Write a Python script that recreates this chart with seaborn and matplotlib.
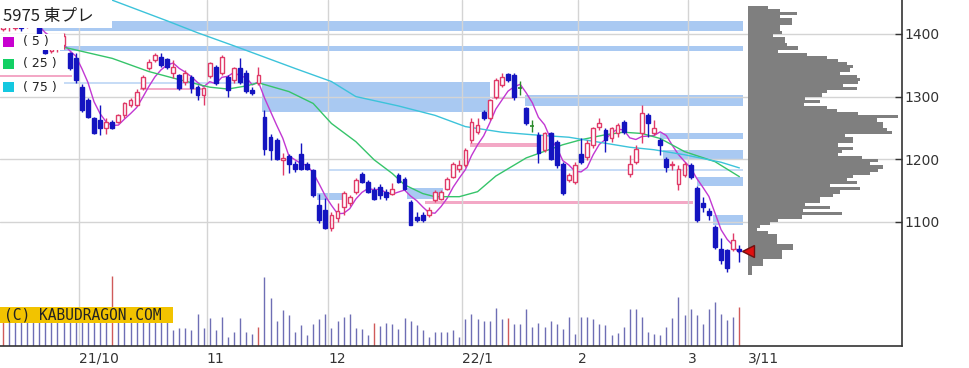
import numpy as np
import pandas as pd
import matplotlib
matplotlib.use("Agg")
import matplotlib.pyplot as plt
from matplotlib.patches import Rectangle
import seaborn as sns

# ==========================================
# データ: 5975 東プレ 日足 (21/9 - 22/3/11)、チャートから読み取り
# ==========================================
opens = [1408, 1418, 1410, 1424, 1412, 1420, 1412, 1374, 1373, 1377,
         1382, 1370, 1362, 1315, 1295, 1266, 1263, 1250, 1260, 1260,
         1270, 1287, 1287, 1313, 1345, 1358, 1364, 1360, 1338, 1334,
         1324, 1332, 1316, 1302, 1333, 1348, 1337, 1332, 1326, 1345,
         1338, 1311, 1321, 1268, 1236, 1230, 1199, 1205, 1192, 1209,
         1192, 1182, 1127, 1119, 1090, 1106, 1124, 1130, 1148, 1177,
         1163, 1151, 1156, 1148, 1145, 1175, 1169, 1132, 1108, 1111,
         1111, 1135, 1137, 1153, 1172, 1185, 1191, 1231, 1244, 1276,
         1265, 1300, 1319, 1336, 1334, 1314, 1281, 1253, 1238, 1215,
         1241, 1228, 1193, 1167, 1164, 1209, 1204, 1223, 1252, 1246,
         1233, 1241, 1260, 1177, 1196, 1241, 1271, 1241, 1230, 1201,
         1191, 1161, 1175, 1191, 1154, 1130, 1117, 1092, 1057, 1055,
         1056, 1057]
highs = [1425, 1432, 1428, 1428, 1426, 1424, 1416, 1378, 1380, 1382,
         1402, 1372, 1370, 1320, 1298, 1268, 1287, 1265, 1262, 1272,
         1292, 1298, 1312, 1335, 1360, 1370, 1370, 1362, 1358, 1336,
         1342, 1334, 1318, 1316, 1356, 1350, 1366, 1335, 1347, 1362,
         1342, 1316, 1348, 1279, 1240, 1233, 1210, 1208, 1197, 1226,
         1195, 1184, 1145, 1138, 1115, 1130, 1149, 1143, 1170, 1180,
         1166, 1155, 1160, 1153, 1162, 1178, 1172, 1135, 1115, 1116,
         1124, 1150, 1150, 1172, 1196, 1198, 1218, 1265, 1265, 1278,
         1296, 1330, 1338, 1338, 1338, 1325, 1284, 1262, 1243, 1243,
         1243, 1231, 1196, 1178, 1196, 1234, 1230, 1252, 1265, 1250,
         1252, 1258, 1262, 1207, 1222, 1287, 1273, 1262, 1233, 1203,
         1197, 1190, 1196, 1194, 1157, 1140, 1122, 1094, 1074, 1057,
         1082, 1063]
lows = [1404, 1405, 1406, 1405, 1410, 1411, 1392, 1368, 1370, 1372,
        1376, 1342, 1322, 1276, 1265, 1240, 1239, 1240, 1248, 1257,
        1266, 1283, 1285, 1310, 1342, 1355, 1348, 1344, 1330, 1310,
        1318, 1306, 1294, 1287, 1330, 1318, 1334, 1300, 1322, 1320,
        1306, 1302, 1318, 1207, 1199, 1198, 1175, 1178, 1180, 1183,
        1182, 1140, 1098, 1088, 1085, 1100, 1110, 1125, 1145, 1162,
        1146, 1134, 1136, 1134, 1142, 1162, 1150, 1094, 1100, 1100,
        1108, 1132, 1134, 1150, 1170, 1180, 1188, 1226, 1240, 1263,
        1262, 1296, 1316, 1324, 1294, 1302, 1255, 1244, 1194, 1212,
        1198, 1186, 1143, 1163, 1160, 1192, 1198, 1218, 1246, 1212,
        1228, 1236, 1240, 1172, 1193, 1226, 1235, 1238, 1207, 1180,
        1183, 1150, 1172, 1168, 1100, 1116, 1103, 1057, 1033, 1020,
        1054, 1036]
closes = [1420, 1428, 1424, 1410, 1420, 1414, 1396, 1370, 1377, 1378,
          1396, 1346, 1326, 1278, 1267, 1242, 1250, 1260, 1250, 1270,
          1290, 1294, 1308, 1332, 1356, 1367, 1350, 1347, 1348, 1313,
          1337, 1313, 1302, 1313, 1354, 1321, 1364, 1310, 1345, 1324,
          1309, 1305, 1334, 1217, 1215, 1200, 1202, 1193, 1185, 1185,
          1184, 1143, 1103, 1090, 1111, 1117, 1146, 1140, 1167, 1164,
          1148, 1137, 1143, 1140, 1153, 1164, 1153, 1095, 1103, 1103,
          1119, 1148, 1148, 1169, 1193, 1191, 1215, 1260, 1255, 1265,
          1294, 1326, 1332, 1326, 1300, 1314, 1257, 1253, 1210, 1241,
          1201, 1190, 1146, 1175, 1191, 1196, 1225, 1249, 1257, 1230,
          1249, 1254, 1244, 1193, 1217, 1273, 1257, 1249, 1222, 1188,
          1193, 1185, 1193, 1172, 1103, 1123, 1111, 1060, 1039, 1026,
          1071, 1054]
volumes = [300, 280, 260, 300, 240, 270, 320, 250, 290, 330,
           260, 300, 280, 340, 310, 270, 290, 330, 700, 270,
           310, 250, 290, 340, 280, 260, 300, 320, 157, 177,
           177, 157, 323, 177, 283, 157, 293, 93, 143, 283,
           143, 117, 190, 690, 477, 250, 357, 310, 143, 207,
           110, 217, 267, 323, 183, 250, 293, 323, 183, 167,
           110, 233, 200, 233, 217, 173, 277, 250, 210, 157,
           93, 140, 140, 140, 157, 93, 267, 323, 267, 250,
           250, 383, 267, 283, 217, 217, 373, 190, 233, 190,
           250, 217, 173, 293, 123, 293, 293, 267, 217, 210,
           110, 127, 190, 373, 373, 293, 143, 123, 110, 190,
           277, 490, 307, 373, 307, 217, 373, 443, 323, 260,
           293, 390]
red_volume_days = [0, 18, 42, 61, 83, 121]

month_first_day = [13, 34, 54, 76, 95, 113]
month_labels = ["21/10", "11", "12", "22/1", "2", "3"]
last_date_label = "3/11"

# 移動平均 (25日, 75日) はチャート上の線から読み取り
ma25_days = [10, 18, 24, 29, 34, 37, 40, 42, 47, 51, 54, 58, 61, 64, 66,
             69, 71, 75, 78, 81, 86, 92, 95, 99, 102, 105, 108, 112, 117, 121]
ma25_vals = [1379, 1361, 1340, 1327, 1315, 1312, 1317, 1322, 1308, 1289,
             1257, 1228, 1199, 1177, 1159, 1145, 1140, 1140, 1148, 1173,
             1202, 1223, 1231, 1239, 1243, 1241, 1233, 1212, 1196, 1172]
ma75_days = [16, 18, 27, 32, 38, 43, 48, 54, 58, 65, 71, 76, 82, 87, 93,
             98, 103, 107, 112, 118, 121]
ma75_vals = [1468, 1454, 1421, 1402, 1381, 1363, 1345, 1324, 1300, 1285,
             1270, 1252, 1243, 1239, 1235, 1227, 1219, 1215, 1207, 1195, 1186]

# 価格帯 (しこり) ゾーン: 下限, 上限, 開始日, 終了日
blue_lo = [1404, 1373, 1276, 1285, 1232, 1201, 1157, 1095, 1135, 1137]
blue_hi = [1420, 1381, 1324, 1302, 1242, 1215, 1171, 1110, 1146, 1154]
blue_from = [5.6, 9.4, 42.6, 85.8, 108.0, 108.5, 114.0, 116.7, 51.6, 66.4]
blue_to = [121.6, 121.6, 80.0, 121.6, 121.6, 121.6, 121.6, 121.6, 55.7, 72.3]
thin_blue_price = [1322, 1183]
thin_blue_from = [-0.5, 53.5]
thin_blue_to = [42.6, 121.6]
pink_lo = [1331, 1219, 1128, 1310, 1296]
pink_hi = [1334, 1226, 1133, 1313, 1299]
pink_from = [-0.5, 76.8, 69.4, 22.5, 80.4]
pink_to = [11.4, 87.8, 113.4, 33.0, 83.9]

# 価格帯別出来高 (1445円から5円刻み)
profile_top = 1445
profile_step = 5
profile_vol = [20, 32, 49, 32, 44, 44, 32, 32, 34, 25,
               37, 37, 39, 50, 30, 59, 79, 90, 99, 105,
               102, 92, 109, 112, 110, 95, 109, 79, 74, 57,
               72, 56, 79, 89, 110, 150, 129, 135, 135, 139,
               144, 97, 105, 105, 90, 105, 94, 90, 114, 130,
               122, 135, 130, 122, 105, 99, 109, 82, 112, 92,
               85, 72, 72, 57, 82, 55, 94, 54, 30, 22,
               12, 9, 20, 29, 29, 29, 45, 45, 34, 34,
               34, 15, 15, 4, 4, 4]

# ==========================================
# 描画
# ==========================================
sns.set_theme(style="white")
plt.rcParams["font.family"] = ["DejaVu Sans", "Noto Sans CJK JP"]

W, H = 969, 368
STEP = 6.088      # px per trading day
X0 = 2.7          # px of first candle
fig = plt.figure(figsize=(W / 100, H / 100), dpi=100)


def fx(px):
    return px / W


def fy(py):
    return 1 - py / H


ax = fig.add_axes([0, fy(346), fx(902), 346 / H])
ax.set_facecolor("white")
n = len(closes)
days = np.arange(n)
o, h, l, c = map(np.array, (opens, highs, lows, closes))

ax.set_xlim(-X0 / STEP, (902 - X0) / STEP)
ax.set_ylim(901.4, 1454.3)

# zones
for lo, hi, a, b in zip(blue_lo, blue_hi, blue_from, blue_to):
    ax.fill_between([a, b], lo, hi, color="#a9c9f2", lw=0, zorder=0.3)
for p, a, b in zip(thin_blue_price, thin_blue_from, thin_blue_to):
    ax.hlines(p, a, b, color="#bcd6f5", lw=1.2, zorder=0.3)
for lo, hi, a, b in zip(pink_lo, pink_hi, pink_from, pink_to):
    ax.fill_between([a, b], lo, hi, color="#f3a8c6", lw=0, zorder=0.35)

# grid
ax.set_axisbelow(True)
grid_x = [d - 0.5 for d in month_first_day]
label_x = n - 1 + 1.4
ax.set_xticks(grid_x + [label_x])
ax.set_xticklabels(month_labels + [last_date_label], ha="left")
ax.grid(True, color="#d4d4d4", lw=1)
ax.get_xgridlines()[-1].set_visible(False)
ax.yaxis.tick_right()
ax.set_yticks([1100, 1200, 1300, 1400])
ax.tick_params(axis="y", direction="in", length=5, width=1, pad=2,
               labelsize=10, colors="#333333", right=True)
ax.tick_params(axis="x", length=0, pad=4, labelsize=10, labelcolor="#333333")
for s in ["left", "top"]:
    ax.spines[s].set_visible(False)
for s in ["right", "bottom"]:
    ax.spines[s].set_color("#333333")
    ax.spines[s].set_linewidth(1.2)

# volume (bottom strip)
vol_colors = ["#d05a5a" if d in red_volume_days else "#6e6eb4" for d in days]
ax.vlines(days, 0, np.array(volumes) / 3460, colors=vol_colors, lw=1,
          transform=ax.get_xaxis_transform(), zorder=1)

# volume by price
centers = profile_top - profile_step * (np.arange(len(profile_vol)) + 0.5)
ax.barh(centers, np.array(profile_vol) / STEP, height=profile_step,
        left=(748 - X0) / STEP, color="#7f7f7f", lw=0, zorder=1)

# moving averages
ma5 = pd.Series(closes).rolling(5).mean()
sns.lineplot(x=days, y=ma5, ax=ax, color="#c238d2", lw=1, zorder=2)
sns.lineplot(x=ma25_days, y=ma25_vals, ax=ax, color="#36c46a", lw=1, zorder=2)
sns.lineplot(x=ma75_days, y=ma75_vals, ax=ax, color="#3cc3da", lw=1, zorder=2)
ax.set_xlabel("")
ax.set_ylabel("")

# candles
up = c > o
down = c < o
doji = c == o
wick_col = np.where(up, "#e03a68", np.where(down, "#1414c0", "#2a8a2a"))
ax.vlines(days, l, h, colors=wick_col, lw=1, zorder=3)
ax.bar(days[up], (c - o)[up], bottom=o[up], width=0.62, color="white",
       edgecolor="#e03a68", lw=1, zorder=4)
ax.bar(days[down], (c - o)[down], bottom=o[down], width=0.62, color="#1414c0",
       edgecolor="#1414c0", lw=1, zorder=4)
ax.hlines(c[doji], days[doji] - 0.33, days[doji] + 0.33, color="#2a8a2a",
          lw=1.2, zorder=4)

# last price marker
ax.plot(label_x, closes[-1], marker="<", ms=8, color="#e01010",
        mec="#701010", mew=1, zorder=6, clip_on=False)

# legend block
def box(x0, y0, x1, y1, color):
    fig.patches.append(Rectangle((fx(x0), fy(y1)), fx(x1 - x0), (y1 - y0) / H,
                                 transform=fig.transFigure, facecolor=color,
                                 edgecolor="none", zorder=5))


box(0, 0, 112, 28, "white")
fig.text(fx(3), fy(17), "5975 東プレ", fontsize=12, va="center",
         family=["Noto Sans CJK JP", "DejaVu Sans"], color="#222222", zorder=6)
legend_rows = [("( 5 )", "#c800d0", 42), ("( 25 )", "#12d064", 64),
               ("( 75 )", "#14c8e0", 87)]
for label, col, yc in legend_rows:
    box(0, yc - 7.5, 64, yc + 7.5, "white")
    box(3, yc - 5, 14, yc + 5, col)
    fig.text(fx(23), fy(yc), label, fontsize=9, va="center", color="#222222",
             zorder=6)

# watermark
box(0, 306.7, 173, 323.3, "#f2c300")
fig.text(fx(4), fy(315.5), "(C) KABUDRAGON.COM", fontsize=10.5, va="center",
         family="DejaVu Sans Mono", color="#222222", zorder=6)

fig.savefig("out.png", dpi=100, facecolor="white")
